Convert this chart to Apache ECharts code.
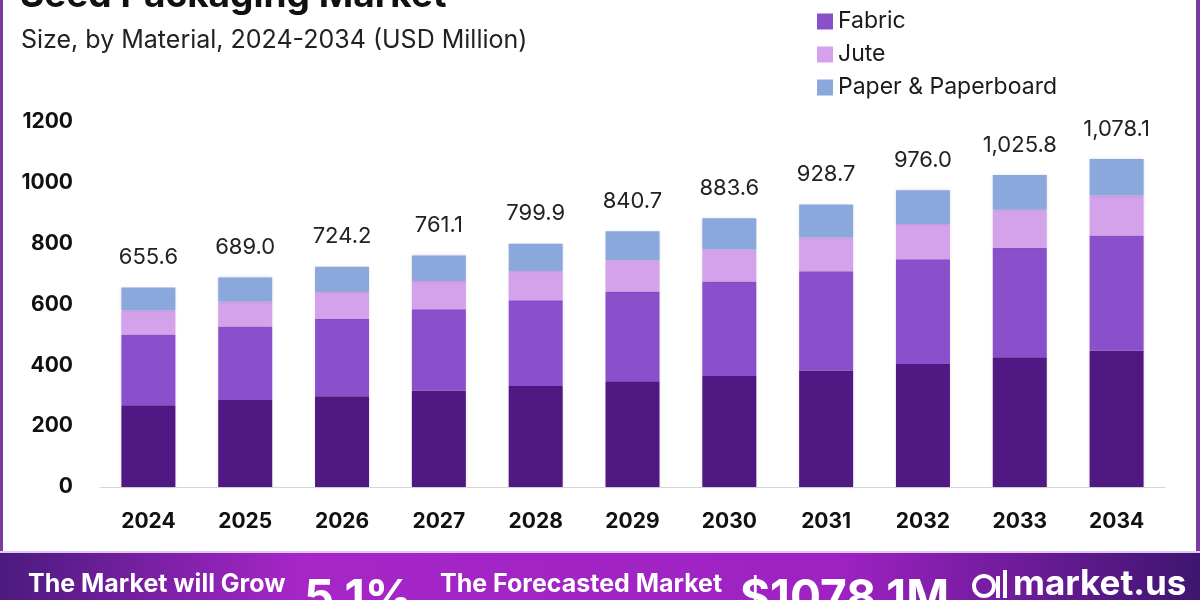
<!DOCTYPE html>
<html>
<head>
<meta charset="utf-8">
<script src="https://cdn.jsdelivr.net/npm/echarts@6/dist/echarts.min.js"></script>
<style>
  html, body { margin: 0; padding: 0; background: #fff; }
  #chart { width: 1200px; height: 600px; }
</style>
</head>
<body>
<div id="chart"></div>
<script>
// years and material split (USD Million)
var years = ['2024', '2025', '2026', '2027', '2028', '2029', '2030', '2031', '2032', '2033', '2034'];
var plastic = [269.0, 286.1, 298.3, 316.4, 332.3, 347.4, 365.3, 383.4, 404.3, 426.7, 447.8];
var fabric = [232.6, 241.8, 254.1, 267.9, 281.8, 295.0, 310.0, 326.0, 344.8, 360.1, 379.2];
var jute = [78.5, 81.6, 88.4, 93.0, 95.9, 102.7, 105.7, 110.7, 115.9, 125.1, 131.1];
var paper = [75.5, 79.5, 83.4, 83.8, 89.9, 95.6, 102.6, 108.6, 111.0, 113.9, 120.0];
var totalLabels = ['655.6', '689.0', '724.2', '761.1', '799.9', '840.7', '883.6', '928.7', '976.0', '1,025.8', '1,078.1'];
var yTicks = [0, 200, 400, 600, 800, 1000, 1200];

var font = 'Inter, "Noto Sans", sans-serif';
var colors = ['#4f1882', '#8a4fcb', '#d4a2ea', '#8aa8dc'];

var myChart = echarts.init(document.getElementById('chart'));

function seriesItem(name, data, idx) {
	var s = {
		name: name,
		type: 'bar',
		stack: 'total',
		data: data,
		barWidth: 54,
		itemStyle: {
			color: colors[idx],
			shadowBlur: 3,
			shadowColor: 'rgba(60,20,100,0.18)'
		}
	};
	// total label sits on the last stack
	if (idx == 3) {
		s.label = {
			show: true,
			position: 'top',
			distance: 19,
			fontFamily: font,
			fontSize: 22,
			color: '#222',
			formatter: function (p) { return totalLabels[p.dataIndex]; }
		};
	}
	return s;
}

var option = {
	animation: false,
	color: colors,
	grid: {
		left: 100,
		width: 1065,
		top: 122,
		bottom: 113
	},
	legend: {
		orient: 'vertical',
		left: 812,
		top: -28,
		itemWidth: 16,
		itemHeight: 16,
		itemGap: 10,
		icon: 'rect',
		textStyle: {
			fontFamily: font,
			fontSize: 23,
			lineHeight: 23,
			color: '#1a1a1a'
		},
		data: ['Plastic', 'Fabric', 'Jute', 'Paper & Paperboard']
	},
	xAxis: {
		type: 'category',
		data: years,
		axisTick: { show: false },
		axisLine: { lineStyle: { color: '#d6d6d6', width: 1 } },
		axisLabel: {
			margin: 24,
			fontFamily: font,
			fontSize: 21,
			fontWeight: 'bold',
			color: '#111'
		}
	},
	yAxis: {
		type: 'value',
		min: yTicks[0],
		max: yTicks[yTicks.length - 1],
		interval: 200,
		splitLine: { show: false },
		axisLine: { show: false },
		axisTick: { show: false },
		axisLabel: {
			margin: 27,
			fontFamily: font,
			fontSize: 21,
			fontWeight: 'bold',
			color: '#111',
			formatter: function (v) { return String(v); }
		}
	},
	series: [
		seriesItem('Plastic', plastic, 0),
		seriesItem('Fabric', fabric, 1),
		seriesItem('Jute', jute, 2),
		seriesItem('Paper & Paperboard', paper, 3)
	],
	graphic: [
		// side borders
		{ type: 'rect', shape: { x: 0, y: 0, width: 3, height: 553 }, style: { fill: '#7a3aa0' } },
		{ type: 'rect', shape: { x: 1196, y: 0, width: 4, height: 553 }, style: { fill: '#7a3aa0' } },
		// title, mostly cut off at the top
		{
			type: 'text', x: 20, y: 14,
			style: { text: 'Seed Packaging Market', font: 'bold 37px ' + font, fill: '#111', verticalAlign: 'bottom' }
		},
		{
			type: 'text', x: 21, y: 40,
			style: { text: 'Size, by Material, 2024-2034 (USD Million)', font: '25px ' + font, fill: '#222', verticalAlign: 'middle' }
		},
		// bottom banner
		{
			type: 'rect',
			shape: { x: 0, y: 552, width: 1200, height: 48 },
			style: {
				fill: new echarts.graphic.LinearGradient(0, 0, 1, 0, [
					{ offset: 0, color: '#4b1a7e' },
					{ offset: 0.25, color: '#a626c8' },
					{ offset: 0.7, color: '#9e22c2' },
					{ offset: 1, color: '#3e1570' }
				])
			}
		},
		{ type: 'rect', shape: { x: 0, y: 551, width: 1200, height: 2 }, style: { fill: '#e2c9f2' } },
		{
			type: 'text', x: 28, y: 584,
			style: { text: 'The Market will Grow', font: 'bold 25px ' + font, fill: '#fff', verticalAlign: 'middle' }
		},
		{
			type: 'text', x: 304, y: 599,
			style: { text: '5.1%', font: 'bold 47px ' + font, fill: '#fff', verticalAlign: 'middle' }
		},
		{
			type: 'text', x: 440, y: 584,
			style: { text: 'The Forecasted Market', font: 'bold 25px ' + font, fill: '#fff', verticalAlign: 'middle' }
		},
		{
			type: 'text', x: 740, y: 599,
			style: { text: '$1078.1M', font: 'bold 46px ' + font, fill: '#fff', verticalAlign: 'middle' }
		},
		// market.us logo
		{ type: 'circle', shape: { cx: 984, cy: 586, r: 10 }, style: { fill: 'none', stroke: '#fff', lineWidth: 4 } },
		{ type: 'rect', shape: { x: 996, y: 576, width: 4, height: 22 }, style: { fill: '#fff' } },
		{ type: 'rect', shape: { x: 1003, y: 570, width: 4, height: 28 }, style: { fill: '#fff' } },
		{
			type: 'text', x: 1013, y: 584,
			style: { text: 'market.us', font: 'bold 35px ' + font, fill: '#fff', verticalAlign: 'middle' }
		}
	]
};

myChart.setOption(option);
</script>
</body>
</html>
